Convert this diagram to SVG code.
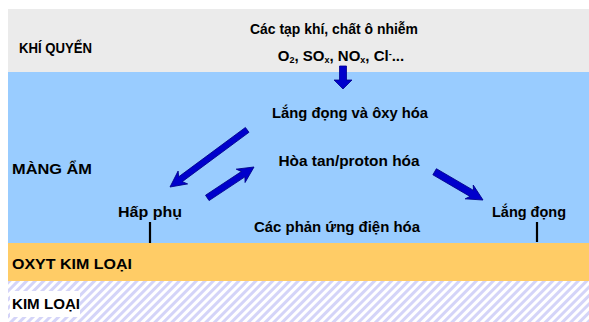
<svg xmlns="http://www.w3.org/2000/svg" width="589" height="322" viewBox="0 0 589 322">
  <defs>
    <style>
      .t { font-family: "Liberation Sans", Arial, sans-serif; font-weight: bold; font-size: 15px; fill: #000; }
      .c { text-anchor: middle; }
      .arrow { fill: #0000cc; stroke: #00008a; stroke-width: 0.8; stroke-linejoin: round; }
      .tick { stroke: #000; stroke-width: 2.2; }
    </style>
    <pattern id="hatch" width="6" height="6" patternUnits="userSpaceOnUse" patternTransform="rotate(45)">
      <rect width="6" height="6" fill="#ffffff"/>
      <rect width="3" height="6" fill="#d4d4f8"/>
    </pattern>
  </defs>

  <!-- layers -->
  <g id="layers">
    <rect x="8" y="9" width="581" height="63" fill="#ebebeb"/>
    <rect x="8" y="72" width="581" height="171" fill="#99ccff"/>
    <rect x="8" y="243" width="581" height="38" fill="#ffcc66"/>
    <rect x="8" y="281" width="581" height="41" fill="url(#hatch)"/>
    <rect x="10" y="291" width="70" height="26" fill="#ffffff"/>
  </g>

  <!-- layer labels -->
  <g id="layer-labels">
    <text class="t" x="19" y="53" textLength="73" lengthAdjust="spacingAndGlyphs">KHÍ QUYỂN</text>
    <text class="t" x="12" y="174" textLength="80" lengthAdjust="spacingAndGlyphs">MÀNG ẨM</text>
    <text class="t" x="12" y="269" textLength="120" lengthAdjust="spacingAndGlyphs">OXYT KIM LOẠI</text>
    <text class="t" x="12" y="309" textLength="68" lengthAdjust="spacingAndGlyphs">KIM LOẠI</text>
  </g>

  <g id="pollutants">
    <text class="t c" x="334" y="34" textLength="168" lengthAdjust="spacingAndGlyphs">Các tạp khí, chất ô nhiễm</text>
    <text class="t c" x="341" y="61" font-size="13">O<tspan font-size="9" dy="2">2</tspan><tspan dy="-2">, SO</tspan><tspan font-size="9" dy="2">x</tspan><tspan dy="-2">, NO</tspan><tspan font-size="9" dy="2">x</tspan><tspan dy="-2">, Cl</tspan><tspan font-size="9" dy="-4">-</tspan><tspan dy="4">...</tspan></text>
  </g>

  <g id="deposition-oxidation">
    <text class="t c" x="350" y="118" textLength="156" lengthAdjust="spacingAndGlyphs">Lắng đọng và ôxy hóa</text>
  </g>
  <g id="dissolution">
    <text class="t c" x="349" y="166" textLength="141" lengthAdjust="spacingAndGlyphs">Hòa tan/proton hóa</text>
  </g>
  <g id="adsorption">
    <text class="t c" x="150" y="217" textLength="64" lengthAdjust="spacingAndGlyphs">Hấp phụ</text>
    <line class="tick" x1="150" y1="222" x2="150" y2="243"/>
  </g>
  <g id="deposition">
    <text class="t c" x="529" y="217" textLength="74" lengthAdjust="spacingAndGlyphs">Lắng đọng</text>
    <line class="tick" x1="537" y1="222" x2="537" y2="242"/>
  </g>
  <g id="electrochemical">
    <text class="t c" x="337" y="232" textLength="166" lengthAdjust="spacingAndGlyphs">Các phản ứng điện hóa</text>
  </g>

  <!-- connectors -->
  <g id="connectors">
    <!-- down from atmosphere -->
    <path class="arrow" d="M339.5,66 L346.5,66 L346.5,80 L352,80 L343,89 L334,80 L339.5,80 Z"/>
    <!-- to adsorption -->
    <g transform="translate(170,187) rotate(143.5)">
      <path class="arrow" d="M0,0 L-16,-8 L-13,-3 L-96,-3 L-96,3 L-13,3 L-16,8 Z"/>
    </g>
    <!-- back up to dissolution -->
    <g transform="translate(254,167) rotate(-33.5)">
      <path class="arrow" d="M0,0 L-16,-8 L-13,-3.2 L-56,-3.2 L-56,3.2 L-13,3.2 L-16,8 Z"/>
    </g>
    <!-- to deposition -->
    <g transform="translate(483,200) rotate(30.3)">
      <path class="arrow" d="M0,0 L-16,-8 L-13,-3.5 L-56,-3.5 L-56,3.5 L-13,3.5 L-16,8 Z"/>
    </g>
  </g>
</svg>
